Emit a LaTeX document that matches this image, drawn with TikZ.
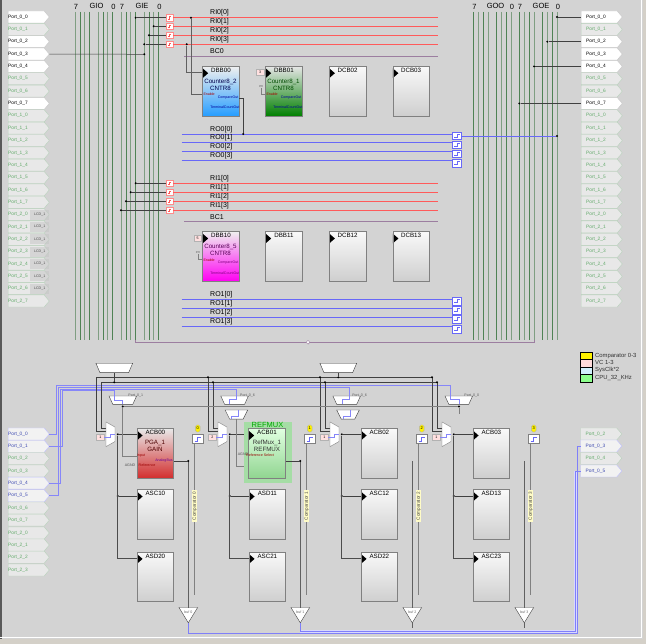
\documentclass[tikz,border=0pt]{standalone}
\usepackage{fontspec}
\setmainfont{Liberation Sans}
\usetikzlibrary{shapes.geometric,shapes.symbols}

\definecolor{panelGray}{HTML}{D3D3D3}
\definecolor{frameTan}{HTML}{D4D0C8}
\definecolor{wireGray}{HTML}{606060}
\definecolor{wireDark}{HTML}{404040}
\definecolor{busGreen}{HTML}{4F8254}
\definecolor{busPale}{HTML}{7F9E82}
\definecolor{inRed}{HTML}{FF5A5A}
\definecolor{outBlue}{HTML}{6868F8}
\definecolor{broadcast}{HTML}{9C7EA0}
\definecolor{portGreen}{HTML}{62AA6A}
\definecolor{portEdge}{HTML}{B9D2BC}
\definecolor{portBlue}{HTML}{3C48B0}
\newcommand{\nub}{\phantom{\rule{.5pt}{.5pt}}}

\tikzset{
  portOn/.style={signal, signal to=east, signal pointer angle=100, anchor=west, draw=gray!45, fill=white, text=black, font=\fontsize{4.8}{5}\selectfont, minimum height=12pt, inner ysep=0pt, inner xsep=0pt, text width=36pt, align=left},
  portOff/.style={portOn, draw=portEdge, fill=gray!18, text=portGreen},
  portLow/.style={portOn, draw=blue!25, fill=gray!10, text=portBlue},
  lcdTag/.style={anchor=west, fill=gray!45!white, fill opacity=.55, text opacity=1, text=black!70, font=\fontsize{3.6}{4}\selectfont, minimum width=19pt, minimum height=10pt, inner sep=0pt},
  busLabel/.style={font=\fontsize{7.5}{8}\selectfont, inner sep=0pt},
  netLabel/.style={anchor=west, font=\fontsize{7}{8}\selectfont, inner sep=0pt},
  dot/.style={circle, fill=black, inner sep=0pt, minimum size=2.2pt},
  switchbox/.style={draw=inRed!70, fill=white, minimum size=6.4pt, inner sep=0pt, path picture={\draw[inRed, line width=.6pt] (path picture bounding box.center) ++(-1.4,1.4) -- ++(1.4,0) -- ++(0,-2.8) -- ++(1.4,0);}},
  outbox/.style={draw=outBlue, fill=white, minimum width=9pt, minimum height=7.6pt, inner sep=0pt, path picture={\draw[outBlue, line width=.5pt] (path picture bounding box.center) ++(-3,1.5) -- ++(3.6,0) -- ++(0,-3) -- ++(2,0);}},
  block/.style={draw=gray, line width=.8pt, anchor=north west, minimum width=36.5pt, minimum height=49.6pt, inner sep=0pt, top color=gray!5, bottom color=gray!38, path picture={\fill[black] (path picture bounding box.north west) ++(0,2) -- ++(5.5,4.8) -- ++(-5.5,4.8) -- cycle;}},
  title/.style={font=\fontsize{6.2}{7}\selectfont, inner sep=0pt},
  tiny/.style={font=\fontsize{3.6}{4}\selectfont, inner sep=0pt},
  vcTag/.style={draw=gray!60, fill=red!12, font=\fontsize{3.6}{4}\selectfont, minimum width=7.5pt, minimum height=5.6pt, inner sep=0pt},
  muxTop/.style={trapezium, shape border rotate=180, trapezium stretches=true, trapezium angle=82, draw=wireDark, fill=white, inner sep=0pt, minimum width=36.7pt, minimum height=9.4pt},
  muxSmall/.style={trapezium, shape border rotate=180, trapezium stretches=true, trapezium angle=79, draw=wireDark, fill=white, inner sep=0pt, minimum width=27.6pt, minimum height=8.4pt},
  muxLow/.style={muxSmall, trapezium angle=71, minimum width=22.6pt, minimum height=9.2pt},
  muxSide/.style={trapezium, shape border rotate=270, trapezium stretches=true, trapezium angle=70.5, draw=gray, fill=white, inner sep=0pt, minimum width=24.7pt, minimum height=9pt},
  bufTri/.style={isosceles triangle, shape border rotate=-90, isosceles triangle stretches=true, anchor=apex, draw=wireDark, fill=white, inner sep=0pt, minimum width=18.7pt, minimum height=15.3pt, font=\fontsize{3.4}{4}\selectfont},
  compBox/.style={draw=gray, fill=white, minimum width=11.6pt, minimum height=8.8pt, inner sep=0pt, path picture={\draw[outBlue, line width=.5pt] (path picture bounding box.center) ++(-3,2.5) -- ++(3,0) -- ++(0,-4) -- ++(3,0);}},
  compNum/.style={rounded corners=1.5pt, draw=gray!60, fill=yellow, font=\fontsize{4}{4}\selectfont, minimum width=4.8pt, minimum height=7pt, inner sep=0pt},
  compTag/.style={rotate=90, fill=yellow!22, text=black!75, font=\fontsize{4.6}{5}\selectfont, minimum width=32pt, minimum height=5pt, inner sep=0pt},
  legendBox/.style={draw=black, line width=1pt, anchor=north west, minimum width=12pt, minimum height=7.5pt, inner sep=0pt},
  legendText/.style={anchor=west, font=\fontsize{5.9}{6}\selectfont, text=black!80, inner sep=0pt},
}

\begin{document}
\begin{tikzpicture}[x=1pt, y=-1pt]
\useasboundingbox (0,0) rectangle (646,644);
\fill[panelGray] (0,0) rectangle (646,644);
\fill[gray!70!black] (0,0) rectangle (1.6,644);
\fill[frameTan] (0,639) rectangle (646,644);
\fill[frameTan] (643,0) rectangle (646,644);
\draw[white, line width=1pt] (641,0) -- (641,637.5) -- (0,637.5);

% vertical global busses
\foreach \x/\c in {75/busPale, 80/busGreen, 84.7/busPale, 89.3/busGreen, 98.3/busPale, 103/busGreen, 107.7/busPale, 112.7/busGreen, 121.3/busPale, 126/busGreen, 130.7/busPale, 135.7/busGreen, 144.3/busPale, 149/busGreen, 153.7/busPale, 158.3/busGreen, 473.3/busGreen, 478.3/busPale, 483.3/busGreen, 488/busPale, 496.3/busGreen, 501.3/busPale, 506.3/busGreen, 511/busPale, 519.3/busGreen, 524.3/busPale, 529/busGreen, 534/busPale, 542.3/busGreen, 547.3/busPale, 552.3/busGreen, 557/busPale}
  \draw[\c, line width=.9pt] (\x,12) -- (\x,340);

\node[busLabel] (gio high) at (76,7) {7};
\node[busLabel] (gio name) at (96.5,5.5) {GIO};
\node[busLabel] (gio low) at (113.5,7) {0};
\node[busLabel] (gie high) at (122,7) {7};
\node[busLabel] (gie name) at (142,5.5) {GIE};
\node[busLabel] (gie low) at (159.5,7) {0};
\node[busLabel] (goo high) at (474.5,7) {7};
\node[busLabel] (goo name) at (495.5,5.5) {GOO};
\node[busLabel] (goo low) at (512,7) {0};
\node[busLabel] (goe high) at (520,7) {7};
\node[busLabel] (goe name) at (541,5.5) {GOE};
\node[busLabel] (goe low) at (558,7) {0};

% digital ports
\foreach \a/\b/\kind [count=\i from 0] in {0/0/portOn, 0/1/portOff, 0/2/portOn, 0/3/portOn, 0/4/portOn, 0/5/portOff, 0/6/portOff, 0/7/portOn, 1/0/portOff, 1/1/portOff, 1/2/portOff, 1/3/portOff, 1/4/portOff, 1/5/portOff, 1/6/portOff, 1/7/portOff, 2/0/portOff, 2/1/portOff, 2/2/portOff, 2/3/portOff, 2/4/portOff, 2/5/portOff, 2/6/portOff, 2/7/portOff} {
  \node[\kind] (left port \i) at (8, {17+12.35*\i}) {Port\_\a\_\b};
  \node[\kind, execute at begin node=\hspace*{5pt}] (right port \i) at (581, {17+12.35*\i}) {Port\_\a\_\b};
}
\foreach \i in {16,...,22}
  \node[lcdTag] (lcd \i) at (30, {17+12.35*\i}) {LCD\_1};

% row input and output nets
\foreach \y [count=\i from 0] in {17.7,26.3,35.3,44.3} {
  \node[switchbox] (ri0 switch \i) at (169.5,\y) {};
  \coordinate (ri0 end \i) at (438,\y);
  \draw[inRed, line width=.9pt] (ri0 switch \i) -- (ri0 end \i);
  \node[netLabel] (ri0 label \i) at (210,{\y-4.6}) {RI0[\i]};
}
\foreach \y [count=\i from 0] in {183.3,192.3,201.3,210.3} {
  \node[switchbox] (ri1 switch \i) at (169.5,\y) {};
  \coordinate (ri1 end \i) at (438,\y);
  \draw[inRed, line width=.9pt] (ri1 switch \i) -- (ri1 end \i);
  \node[netLabel] (ri1 label \i) at (210,{\y-4.2}) {RI1[\i]};
}
\foreach \y/\z [count=\i from 0] in {134/135.8,142.7/144.6,151.7/153.6,160.7/163} {
  \coordinate (ro0 start \i) at (181.7,\y);
  \node[outbox] (ro0 box \i) at (457,\z) {};
  \draw[outBlue, line width=.9pt] (ro0 start \i) -- (ro0 box \i.west |- ro0 start \i);
  \node[netLabel] (ro0 label \i) at (210,{\y-4.6}) {RO0[\i]};
}
\foreach \y/\z [count=\i from 0] in {299.3/301,308.3/310,317.3/319,326.3/329} {
  \coordinate (ro1 start \i) at (181.7,\y);
  \node[outbox] (ro1 box \i) at (457,\z) {};
  \draw[outBlue, line width=.9pt] (ro1 start \i) -- (ro1 box \i.west |- ro1 start \i);
  \node[netLabel] (ro1 label \i) at (210,{\y-4.2}) {RO1[\i]};
}

\node[netLabel] (bc0 label) at (210,51) {BC0};
\coordinate (bc0 start) at (184,56);
\coordinate (bc0 end) at (438,56);
\draw[broadcast, line width=.9pt] (bc0 start) -- (bc0 end);
\node[netLabel] (bc1 label) at (210,217) {BC1};
\coordinate (bc1 start) at (184,221.7);
\coordinate (bc1 end) at (438,221.7);
\draw[broadcast, line width=.9pt] (bc1 start) -- (bc1 end);

% bus taps
\foreach \x/\i in {135.7/0, 153.7/1, 149/2, 144.3/3} {
  \node[dot] (ri0 tap \i) at (\x, 0 |- ri0 switch \i) {};
  \draw[wireDark, line width=.5pt] (ri0 tap \i) -- (ri0 switch \i);
}
\foreach \x/\i in {135.7/0, 130.7/1, 126/2, 121/3} {
  \node[dot] (ri1 tap \i) at (\x, 0 |- ri1 switch \i) {};
  \draw[wireDark, line width=.5pt] (ri1 tap \i) -- (ri1 switch \i);
}
\node[dot] (port tap left) at (144.3,54.3) {};
\draw[wireDark, line width=.5pt] (left port 3.east) -- (port tap left);
\foreach \x/\i in {557/0, 547.3/2, 534/4, 519.3/7} {
  \node[dot] (port tap \i) at (\x, 0 |- right port \i) {};
  \draw[wireDark, line width=.5pt] (port tap \i) -- (right port \i.west);
}

% digital blocks
\node[block, top color=gray!12, bottom color=blue!45!cyan!85] (DBB00) at (202.3,66) {};
\node[block, top color=gray!20, bottom color=green!50!black] (DBB01) at (265.3,66) {};
\node[block] (DCB02) at (329,66) {};
\node[block] (DCB03) at (392.5,66) {};
\node[block, top color=gray!12, bottom color=magenta!95!red] (DBB10) at (202.3,231.3) {};
\node[block] (DBB11) at (265.3,231.3) {};
\node[block] (DCB12) at (329,231.3) {};
\node[block] (DCB13) at (392.5,231.3) {};
\foreach \name in {DBB00,DBB01,DCB02,DCB03,DBB10,DBB11,DCB12,DCB13}
  \node[title] (\name name) at ([yshift=-4pt]\name.north) {\name};

\node[title, text=blue!30!black, align=center] (DBB00 module) at (220.5,84.5) {Counter8\_2\\CNTR8};
\node[title, text=black!70!green, align=center] (DBB01 module) at (283.5,84.5) {Counter8\_1\\CNTR8};
\node[title, text=violet!70!black, align=center] (DBB10 module) at (220.5,249.5) {Counter8\_5\\CNTR8};

\foreach \name/\c in {DBB00/blue!60!black, DBB01/blue!60!black, DBB10/violet} {
  \node[tiny, text=red!65!black, anchor=west] (\name enable) at ([xshift=1pt,yshift=-28.7pt]\name.north west) {Enable};
  \node[tiny, text=\c, anchor=east] (\name compare) at ([xshift=-1pt,yshift=-31.5pt]\name.north east) {CompareOut};
  \node[tiny, text=\c, anchor=east] (\name terminal) at ([xshift=0pt,yshift=-41.7pt]\name.north east) {TerminalCountOut};
}

% clock and enable of the first counter
\node[dot] (clock tap) at (186.7,44.3) {};
\node[dot] (enable tap) at (191,17.7) {};
\coordinate (clock in) at (202.3,72);
\coordinate (enable in) at (202.3,94.7);
\draw[wireGray, line width=.8pt] (clock tap) |- (clock in);
\draw[wireGray, line width=.8pt] (enable tap) |- (enable in);
\node[dot] (compare tap) at (243.3,134) {};
\coordinate (compare out) at (238.8,98);
\draw[wireDark, line width=.6pt] (compare out) -| (compare tap);
\node[dot] (output tap) at (557,136) {};
\draw[outBlue, line width=.8pt] (ro0 box 0.east |- output tap) -- (output tap);

\node[vcTag] (DBB01 clock) at (260,72) {3};
\node[vcTag] (DBB10 clock) at (197.5,238) {5};
\node[tiny, text=black!60] (DBB01 en) at (261,87) {en};
\node[tiny, text=black!60] (DBB10 en) at (198,253) {en};
\coordinate (DBB01 in) at (265.3,94);
\coordinate (DBB10 in) at (202.3,259);
\draw[gray, line width=.4pt] (DBB01 en) |- (DBB01 in);
\draw[gray, line width=.4pt] (DBB10 en) |- (DBB10 in);

% bottom edge of the digital area
\coordinate (fold left) at (135.7,340);
\coordinate (fold right) at (534,340);
\draw[broadcast, line width=.9pt] (fold left) |- (308,342.3) -| (fold right);
\node[diamond, draw=broadcast, fill=white, inner sep=0pt, minimum size=4pt] (fold mark) at (308,342.3) {};

% legend
\node[legendBox, fill=yellow] (legend comparator) at (580,351.6) {};
\node[legendBox, fill=red!14] (legend vc) at (580,359.1) {};
\node[legendBox, fill=cyan!18] (legend sysclk) at (580,366.6) {};
\node[legendBox, fill=green!45] (legend cpu) at (580,374.1) {};
\node[legendText] (comparator text) at (595,355.6) {Comparator 0-3};
\node[legendText] (vc text) at (595,362.9) {VC 1-3};
\node[legendText] (sysclk text) at (595,370.4) {SysClk*2};
\node[legendText] (cpu text) at (595,377.8) {CPU\_32\_KHz};

% analog input ports
\foreach \a/\b/\kind/\y in {0/0/portLow/434, 0/1/portLow/446.3, 0/2/portOff/458.5, 0/3/portOff/471, 0/4/portLow/483.2, 0/5/portLow/495.8, 0/6/portOff/508, 0/7/portOff/520.2, 2/0/portOff/533, 2/1/portOff/545, 2/2/portOff/557.2, 2/3/portOff/570}
  \node[\kind] (analog port \a\b) at (8,\y) {Port\_\a\_\b};
\foreach \a/\b/\kind/\y in {0/2/portOff/434, 0/3/portLow/446, 0/4/portOff/458.3, 0/5/portLow/471}
  \node[\kind, execute at begin node=\hspace*{5pt}] (output port \b) at (580.5,\y) {Port\_\a\_\b};

% analog columns
\node[muxTop] (top mux 0) at (114.3,368) {\nub};
\node[muxTop] (top mux 1) at (338.3,368) {\nub};
\coordinate (dark rail a left) at (96,377.3);
\coordinate (dark rail a right) at (432.3,377.3);
\coordinate (dark rail b left) at (101,382.3);
\coordinate (dark rail b right) at (437.3,382.3);
\draw[wireDark, line width=.8pt] (dark rail a left) -- (dark rail a right);
\draw[wireDark, line width=.8pt] (dark rail b left) -- (dark rail b right);
\node[dot] (top tap 0) at (114.3,382.3) {};
\node[dot] (top tap 1) at (338.3,377.3) {};
\draw[wireDark, line width=.6pt] (top mux 0) -- (top tap 0);
\draw[wireDark, line width=.6pt] (top mux 1) -- (top tap 1);

% analog input nets
\coordinate (net a) at (450.7,385.7);
\coordinate (net b) at (349.3,387.3);
\coordinate (net c) at (236.7,389);
\coordinate (net d) at (114.3,390.7);
\node[muxSmall] (amux 0) at (122.8,400.2) {\nub};
\node[muxSmall] (amux 1) at (234.6,400.2) {\nub};
\node[muxSmall] (amux 2) at (346.7,400.2) {\nub};
\node[muxSmall] (amux 3) at (458.8,400.2) {\nub};
\node[muxLow] (bmux 1) at (236.4,414.6) {\nub};
\node[muxLow] (bmux 2) at (348,414.6) {\nub};
\foreach \i/\txt in {0/1, 1/6, 2/6, 3/0}
  \node[tiny, anchor=west, text=black!65] (amux label \i) at ([xshift=1pt]amux \i.north east) {Port\_0\_\txt};
\draw[outBlue!80, line width=.6pt] (analog port 00.east) -| (56.3,385.7) -- (net a) -- (450.7,399) -- (459,399) -- (459,404.4);
\draw[outBlue!80, line width=.6pt] (analog port 05.east) -| (58.3,387.3) -- (net b) -- (349.3,399) -- (342,399) -- (342,404);
\draw[outBlue!80, line width=.6pt] (analog port 04.east) -| (60,389) -- (net c) -- (236.7,399) -- (229,399) -- (229,404);
\draw[outBlue!80, line width=.6pt] (analog port 01.east) -| (62.3,390.7) -- (net d) -- (114.3,400.7) -- (122.7,400.7) -- (122.7,404.4);
\draw[outBlue!80, line width=.6pt] (238,410) -- (238,416) -- (231,416) -- (231,419);
\draw[outBlue!80, line width=.6pt] (350,410) -- (350,416) -- (343,416) -- (343,419);

\foreach \ab/\sc/\sd/\vc [count=\k from 0] in {ACB00/ASC10/ASD20/1, ACB01/ASD11/ASC21/2, ACB02/ASC12/ASD22/1, ACB03/ASD13/ASC23/1} {
  \pgfmathsetmacro{\xb}{136.7+112*\k}
  \pgfmathsetmacro{\xd}{117.8+112*\k}
  \pgfmathsetmacro{\xm}{110.5+112*\k}
  \pgfmathsetmacro{\xv}{100.4+112*\k}
  \pgfmathsetmacro{\xo}{188.3+112*\k}
  \pgfmathsetmacro{\xc}{197.7+112*\k}
  \pgfmathsetmacro{\xl}{194.7+112*\k}
  \pgfmathsetmacro{\xa}{96+112*\k}
  \pgfmathsetmacro{\xe}{101+112*\k}
  \coordinate (rail a \k) at (\xa,377.3);
  \coordinate (rail b \k) at (\xe,382.3);
  \coordinate (mux in a \k) at (\xm-4.5,431.7);
  \coordinate (mux in b \k) at (\xm-4.5,428);
  \draw[wireDark, line width=.8pt] (rail a \k) |- (mux in a \k);
  \draw[wireDark, line width=.8pt] (rail b \k) |- (mux in b \k);
  \node[muxSide] (side mux \k) at (\xm,434.3) {\nub};
  \ifnum\k>0 \node[dot] (rail a dot \k) at (rail a \k) {}; \node[dot] (rail b dot \k) at (rail b \k) {}; \fi
  \node[vcTag] (vc tag \k) at (\xv,437) {\vc};
  \draw[outBlue!80, line width=.5pt] (vc tag \k.east) -- ++(6,0) -- ++(0,-3) -- ++(4.5,0);
  \node[block] (\ab) at (\xb,428.3) {};
  \node[block] (\sc) at (\xb,489.3) {};
  \node[block] (\sd) at (\xb,551.7) {};
  \node[dot] (out dot \k) at (\xd,434.3) {};
  \node[dot] (sc dot \k) at (\xd,496) {};
  \coordinate (sd corner \k) at (\xd,558.3);
  \draw[wireDark, line width=.7pt] (out dot \k) -- (out dot \k -| \ab.west);
  \draw[gray!60!black, line width=.7pt] (out dot \k) -- (sd corner \k) -- (sd corner \k -| \sd.west);
  \draw[wireDark, line width=.7pt] (sc dot \k) -- (sc dot \k -| \sc.west);
  \node[compNum] (comp num \k) at (\xc,428.5) {\k};
  \node[compBox] (comp box \k) at (\xc,439) {};
  \coordinate (comp end \k) at (\xl,595);
  \draw[gray, line width=1pt] (comp box \k.south -| comp end \k) -- (comp end \k);
  \node[compTag] (comp tag \k) at (\xl,506) {Comparator \k};
  \node[bufTri] (buffer \k) at (\xo,623.3) {\nub};
  \node[tiny, text=black!60] (buffer label \k) at (\xo,612.5) {buf \k};
  \coordinate (out start \k) at (\xo,461);
  \draw[wireGray, line width=.8pt] (out start \k) -- (\xo,608);
  \foreach \name in {\ab,\sc,\sd}
    \node[title] (\name name) at ([yshift=-4.5pt]\name.north) {\name};
}
\node[dot] (out dot a) at (188.3,461) {};
\node[dot] (out dot b) at (300.3,461) {};

% outputs of the buffers
\coordinate (buffer bus a) at (577.4,633.2);
\coordinate (buffer bus b) at (575,631.6);
\draw[outBlue!25, line width=3pt] (buffer bus b |- output port 5.west) -- (buffer bus b) -- (buffer 1.apex |- buffer bus b);
\draw[outBlue!85, line width=.8pt] (buffer 0.apex) |- (buffer bus a) -- (buffer bus a |- output port 3.west) -- (output port 3.west);
\draw[outBlue!85, line width=.8pt] (buffer 1.apex) |- (buffer bus b) -- (buffer bus b |- output port 5.west) -- (output port 5.west);
\foreach \k in {2,3}
  \draw[wireGray, line width=.6pt] (buffer \k.apex) -- ++(0,5);

% analog selection wires
\node[dot] (select left) at (122.7,406.5) {};
\node[dot] (select right) at (459,406.5) {};
\draw[gray, line width=.5pt] (select left) -- (select right);
\draw[gray, line width=.5pt] (select right) -- (459,414);
\coordinate (acb0 input) at (136.7,456.7);
\draw[gray, line width=.5pt] (select left) |- (acb0 input);
\coordinate (acb1 input) at (248.3,466.7);
\draw[gray, line width=.5pt] (bmux 1.south) |- (acb1 input);

% PGA block and RefMux block
\node[fill=green!22!panelGray, minimum width=48.4pt, minimum height=61.6pt, anchor=north west, inner sep=0pt] (refmux glow) at (243.3,421.7) {};
\node[block, top color=gray!18, bottom color=red!65!gray] (ACB00 pga) at (136.7,428.3) {};
\node[title] (ACB00 pga name) at ([yshift=-4.5pt]ACB00 pga.north) {ACB00};
\node[block, top color=green!12!white, bottom color=green!45!gray!60] (ACB01 ref) at (248.3,428.3) {};
\node[title] (ACB01 ref name) at ([yshift=-4.5pt]ACB01 ref.north) {ACB01};
\node[font=\fontsize{7.5}{8}\selectfont, text=green!65!black, inner sep=0pt] (refmux label) at (267.5,424.5) {REFMUX};
\node[title, text=black!70!red, align=center] (pga module) at (155,445.5) {PGA\_1\\GAIN};
\node[title, text=black!80, align=center] (ref module) at (267,446) {RefMux\_1\\REFMUX};
\node[tiny, text=red!60!black] (pga input) at (141,455.7) {Input};
\node[tiny, text=red!60!black] (pga ref) at (147,465.5) {Reference};
\node[tiny, text=black!70] (pga agnd) at (130,465) {AGND};
\node[tiny, text=violet!80!blue] (pga out) at (164,460.5) {AnalogBus};
\node[tiny, text=black!70] (ref agnd) at (243,454.5) {AGND};
\node[tiny, text=red!60!black] (ref select) at (260,455.5) {Reference Select};
\draw[wireDark, line width=.5pt] (ACB01 ref.east |- out start 1) -- (out start 1);
\draw[wireDark, line width=.5pt] (ACB00 pga.east |- out start 0) -- (out start 0);
\end{tikzpicture}
\end{document}
